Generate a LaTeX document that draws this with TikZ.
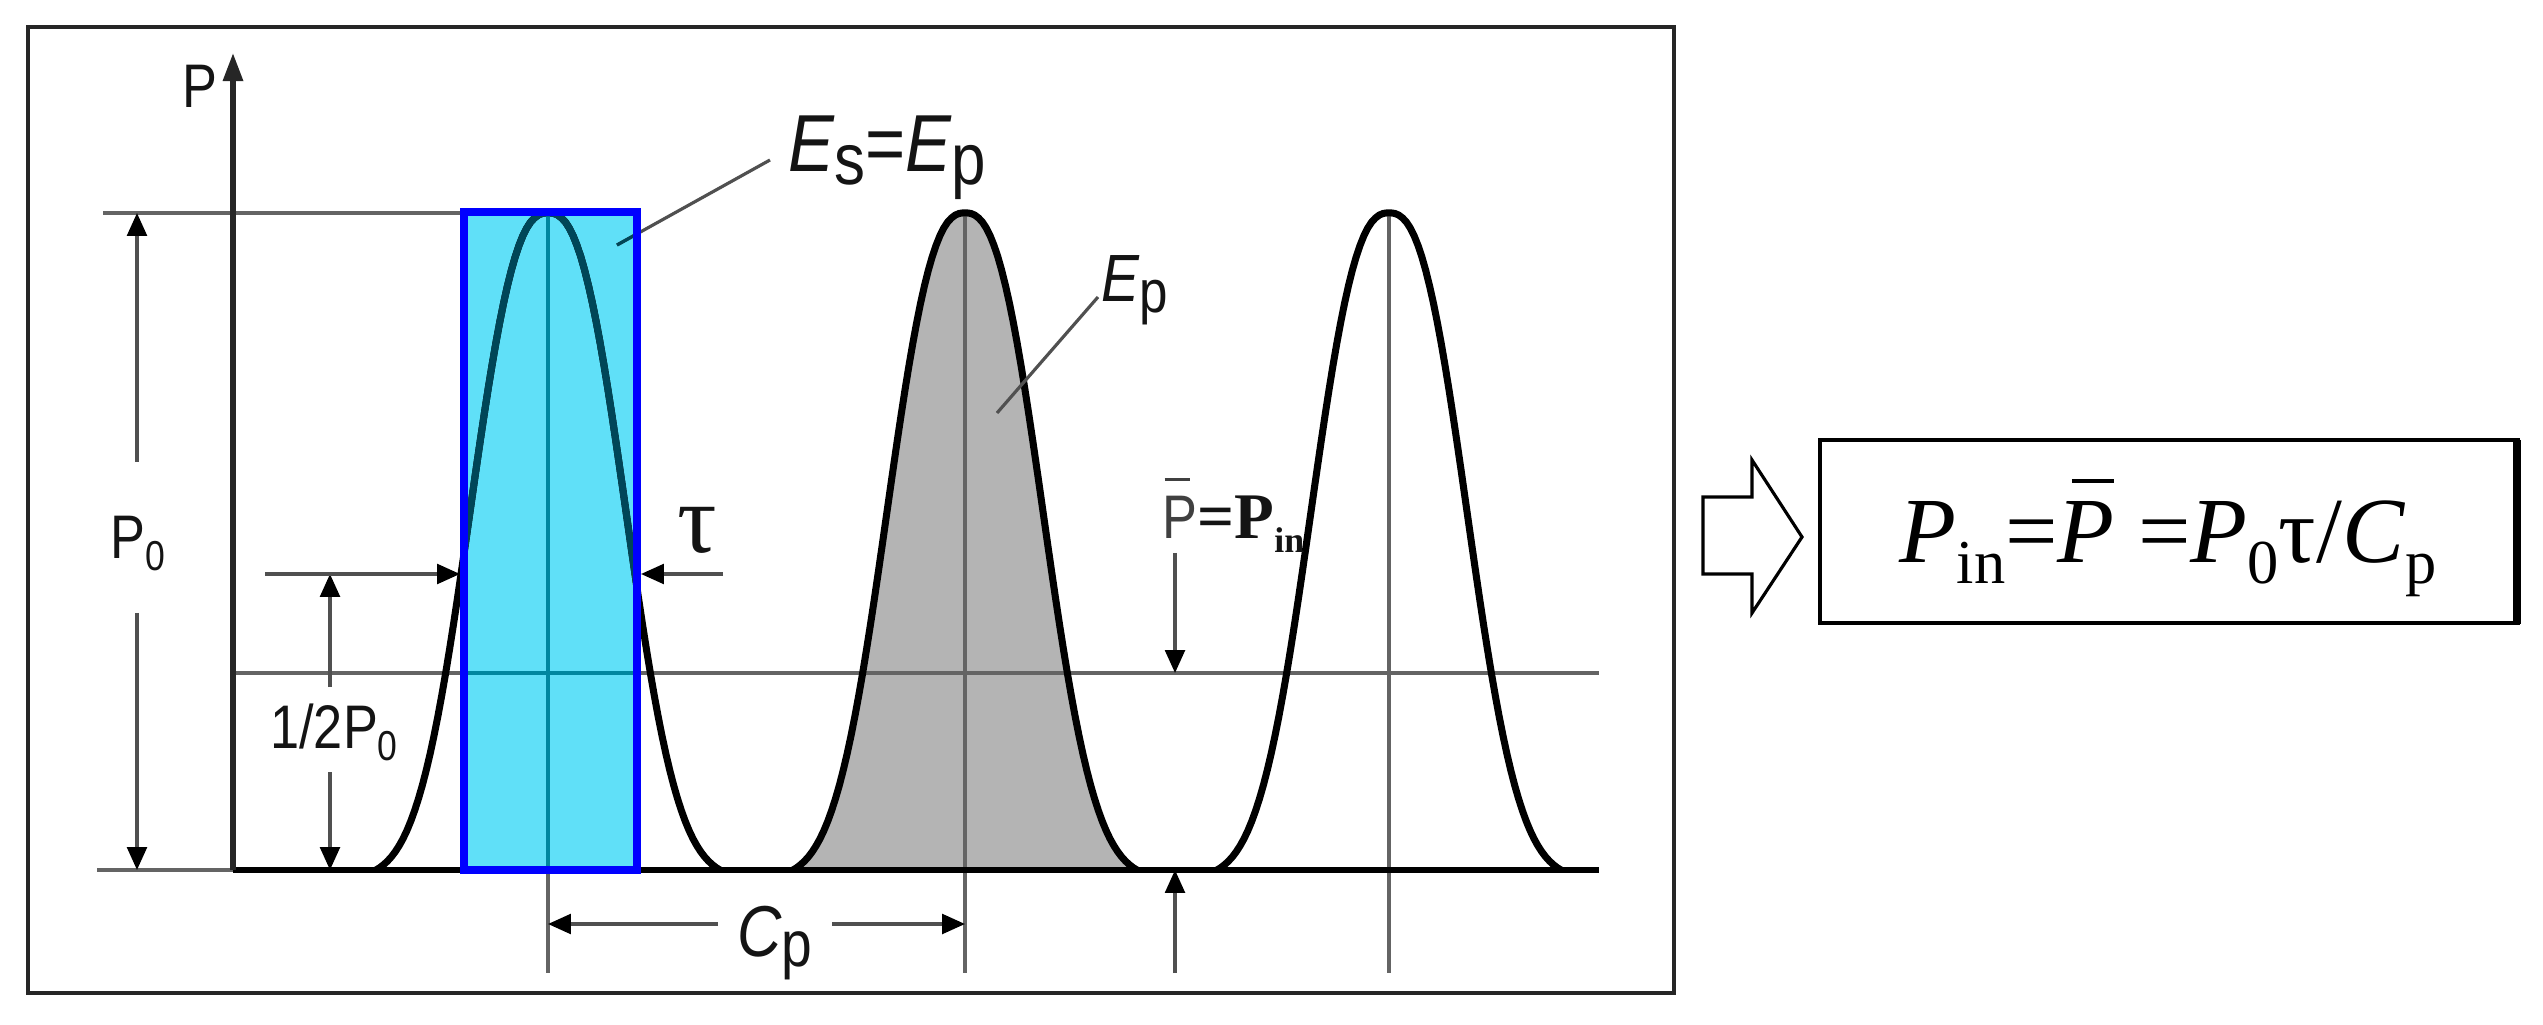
\documentclass[tikz,border=0pt]{standalone}
\usepackage{fontspec}
\usepackage{graphicx}
\usetikzlibrary{arrows.meta}
\newfontfamily\lblfont[FakeStretch=0.85]{Liberation Sans}
\newfontfamily\serfont{Liberation Serif}
\definecolor{dimgray}{RGB}{80,80,80}
\definecolor{refline}{RGB}{100,100,100}
\definecolor{cyanfill}{RGB}{96,224,248}
\definecolor{tealline}{RGB}{0,135,160}
\definecolor{tealcurve}{RGB}{0,70,88}
\definecolor{pulsegray}{RGB}{180,180,180}
\definecolor{txt}{RGB}{20,20,20}
\newcommand\lsub[1]{\raisebox{-0.15em}{\scalebox{0.9}{#1}}}
\newcommand\zsub[1]{\raisebox{-0.2em}{\scalebox{0.68}{#1}}}
\newcommand\fsub[1]{\raisebox{-0.22em}{\scalebox{0.67}{#1}}}
\newcommand\barPsans{\makebox[0pt][l]{\hspace{0.03em}\rule[0.93em]{0.42em}{0.05em}}P}
\newcommand\barPser{\makebox[0pt][l]{\hspace{0.15em}\rule[0.86em]{0.45em}{0.045em}}\textit{P}}
\begin{document}
\begin{tikzpicture}[x=0.01cm,y=-0.01cm,
  frame/.style={draw=black!85, line width=1.1pt},
  refl/.style={draw=refline, line width=1.2pt},
  dim/.style={draw=dimgray, line width=0.9pt, -{Triangle[length=6.5pt,width=5.6pt,color=black]}},
  curve/.style={draw=black, line width=2pt, line join=round},
  leader/.style={draw=dimgray, line width=0.9pt},
  lbl/.style={font=\lblfont\fontsize{17.5pt}{20pt}\selectfont, text=txt, inner sep=0pt},
  lblbig/.style={font=\lblfont\fontsize{23pt}{25pt}\selectfont, text=txt, inner sep=0pt},
  lblmid/.style={font=\lblfont\fontsize{19pt}{22pt}\selectfont, text=txt, inner sep=0pt},
  lblcp/.style={font=\lblfont\fontsize{20.5pt}{23pt}\selectfont, text=txt, inner sep=0pt}
]
\useasboundingbox (0,0) rectangle (2543,1025);
% frame
\draw[frame] (28,27) rectangle (1674,993);
% key coordinates
\coordinate (rectTL) at (464,212);
\coordinate (rectBR) at (637,870);
\coordinate (axisB) at (233,870);
\coordinate (axisT) at (233,53);
\coordinate (baseE) at (1599,870);
\coordinate (meanL) at (233,673);
\coordinate (meanR) at (1599,673);
\coordinate (topL) at (103,213);
\coordinate (baseL) at (97,870);
% cyan rectangle fill
\fill[cyanfill] (rectTL) rectangle (rectBR);
% gray pulse fill
\fill[pulsegray] plot[domain=-172:172,samples=90] ({965+\x},{870-666.06*(exp(-pow((abs(\x)+0.001)/96,2.5))-0.0136)}) -- cycle;
% reference lines
\draw[refl] (topL) -- (topL -| rectTL);
\draw[refl] (meanL) -- (meanR);
\draw[refl] (baseL) -- (axisB);
\foreach \c in {548,965,1389} \draw[refl] (\c,213) -- (\c,973);
% baseline and axis
\draw[draw=black, line width=1.8pt] (axisB) -- (baseE);
\draw[draw=black!85, line width=1.5pt, -{Triangle[length=8pt,width=5.5pt]}] (axisB) -- (axisT);
% pulses
\foreach \c in {548,965,1389}
  \draw[curve] plot[domain=-172:172,samples=90] ({\c+\x},{870-666.06*(exp(-pow((abs(\x)+0.001)/96,2.5))-0.0136)});
% leaders
\coordinate (esA) at (770,160);
\coordinate (esB) at (617,245);
\coordinate (epA) at (1098,297);
\coordinate (epB) at (997,413);
\draw[leader] (esA) -- (esB);
\draw[leader] (epA) -- (epB);
% overlay inside cyan rectangle
\begin{scope}
  \clip (rectTL) rectangle (rectBR);
  \draw[tealline, line width=1.2pt] (meanL) -- (meanR);
  \draw[tealline, line width=1.2pt] (548,213) -- (548,973);
  \draw[tealcurve, line width=2pt] plot[domain=-172:172,samples=90] ({548+\x},{870-666.06*(exp(-pow((abs(\x)+0.001)/96,2.5))-0.0136)});
  \draw[tealcurve, line width=0.9pt] (esA) -- (esB);
\end{scope}
\draw[draw={rgb,255:red,0;green,0;blue,255}, line width=2.3pt] (rectTL) rectangle (rectBR);
% labels
\node[lbl, anchor=base] (Plab) at (200,108) {P};
\node[lbl, anchor=base] (P0lab) at (138,558) {P\zsub{0}};
\node[lbl, anchor=base] (halflab) at (334,748) {1/2P\zsub{0}};
\node[lblbig, anchor=base west] (Eslab) at (788,172) {{\itshape E}\lsub{s}={\itshape E}\lsub{p}};
\node[lblmid, anchor=base west] (Eplab) at (1101,302) {{\itshape E}\lsub{p}};
\node[lblcp, anchor=base] (Cplab) at (775,956) {{\itshape C}\lsub{p}};
\node[font=\serfont\fontsize{28pt}{30pt}\selectfont, text=txt, inner sep=0pt, anchor=base] (taulab) at (697,553) {τ};
\node[inner sep=0pt, anchor=base west, text=txt] (pbarlab) at (1162,538)
  {{\lblfont\fontsize{17.5pt}{19pt}\selectfont\color{black!75}\barPsans}{\serfont\bfseries\fontsize{18.5pt}{20pt}\selectfont =P\raisebox{-0.22em}{\scalebox{0.55}{in}}}};
% dimension arrows
\coordinate (p0up) at (137,462); \coordinate (p0top) at (137,213);
\coordinate (p0dn) at (137,613); \coordinate (p0bot) at (137,870);
\draw[dim] (p0up) -- (p0top);
\draw[dim] (p0dn) -- (p0bot);
\coordinate (hup) at (330,687); \coordinate (htop) at (330,574);
\coordinate (hdn) at (330,772); \coordinate (hbot) at (330,870);
\draw[dim] (hup) -- (htop);
\draw[dim] (hdn) -- (hbot);
\coordinate (tauL0) at (265,574); \coordinate (tauL1) at (460,574);
\coordinate (tauR0) at (723,574); \coordinate (tauR1) at (641,574);
\draw[dim] (tauL0) -- (tauL1);
\draw[dim] (tauR0) -- (tauR1);
\coordinate (cpL0) at (718,924); \coordinate (cpL1) at (548,924);
\coordinate (cpR0) at (832,924); \coordinate (cpR1) at (965,924);
\draw[dim] (cpL0) -- (cpL1);
\draw[dim] (cpR0) -- (cpR1);
\coordinate (mA0) at (1175,553); \coordinate (mA1) at (1175,673);
\coordinate (mB0) at (1175,973); \coordinate (mB1) at (1175,870);
\draw[dim] (mA0) -- (mA1);
\draw[dim] (mB0) -- (mB1);
% block arrow
\draw[draw=black, line width=0.9pt, fill=white, line join=miter]
  (1703,497) -- (1752,497) -- (1752,460) -- (1802,537) -- (1752,613) -- (1752,574) -- (1703,574) -- cycle;
% formula box
\draw[draw=black, line width=1.1pt] (1820,440) rectangle (2518,623);
\draw[draw=black, line width=2.3pt] (2517,440) -- (2517,624);
\node[anchor=base, inner sep=0pt, font=\serfont\fontsize{26.5pt}{28pt}\selectfont] (formula) at (2168,563)
  {\textit{P}\fsub{in}=\barPser\ =\textit{P}\fsub{0}τ/\textit{C}\fsub{p}};
\end{tikzpicture}
\end{document}
